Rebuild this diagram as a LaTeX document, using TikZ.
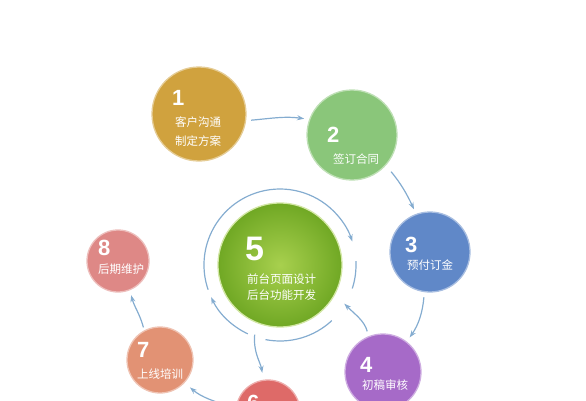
\documentclass[tikz,border=0pt]{standalone}
\usepackage{fontspec}
\usepackage{tikz}
\usetikzlibrary{arrows.meta}
\newfontfamily\cjk{Noto Sans CJK SC}
\newfontfamily\numfont{Liberation Sans}
\definecolor{gold}{RGB}{208,162,62}
\definecolor{leaf}{RGB}{138,198,122}
\definecolor{sky}{RGB}{96,136,200}
\definecolor{violet}{RGB}{166,106,200}
\definecolor{limein}{RGB}{168,208,78}
\definecolor{limeout}{RGB}{112,168,36}
\definecolor{rose}{RGB}{222,106,104}
\definecolor{peach}{RGB}{226,146,116}
\definecolor{blush}{RGB}{222,136,134}
\definecolor{flowblue}{RGB}{132,172,208}

\begin{document}
\begin{tikzpicture}[x=1pt,y=1pt]
            \tikzstyle{stage}=[circle, inner sep=0pt, line width=1.3pt]
            \tikzstyle{num}=[inner sep=0pt, anchor=base west, text=white, font=\numfont\bfseries\fontsize{22}{22}\selectfont]
            \tikzstyle{desc}=[inner sep=0pt, anchor=base west, text=white, align=left, font=\cjk\fontsize{11.5}{18.5}\selectfont]
            \tikzstyle{flow}=[line width=1.2pt, draw=flowblue, -{Stealth[length=7pt,width=5pt]}, shorten <=5pt, shorten >=5pt]
            \tikzstyle{ring}=[line width=1.2pt, draw=flowblue]
            \useasboundingbox (0,0) rectangle (586,400);
            \clip (0,0) rectangle (586,400);
            {\node[stage, minimum size=94pt, fill=gold, draw=gold!55!white] (c1) at (199,286){};
            \node[stage, minimum size=90pt, fill=leaf, draw=leaf!55!white] (c2) at (352,265){};
            \node[stage, minimum size=80pt, fill=sky, draw=sky!55!white] (c3) at (430,148){};
            \node[stage, minimum size=76pt, fill=violet, draw=violet!55!white] (c4) at (383,28){};
            \node[stage, minimum size=124pt, inner color=limein, outer color=limeout, draw=limein!50!white] (c5) at (280,135){};
            \node[stage, minimum size=64pt, fill=rose, draw=rose!55!white] (c6) at (268,-12){};
            \node[stage, minimum size=66pt, fill=peach, draw=peach!55!white] (c7) at (160,40){};
            \node[stage, minimum size=62pt, fill=blush, draw=blush!55!white] (c8) at (118,139){};}
            {\node[num] (n1) at (172,295){1};
            \node[desc] (t1) at (175,255){客户沟通\\制定方案};
            \node[num] (n2) at (327,258){2};
            \node[desc] (t2) at (333,237){签订合同};
            \node[num] (n3) at (405,148){3};
            \node[desc] (t3) at (407,131){预付订金};
            \node[num] (n4) at (360,28){4};
            \node[desc] (t4) at (362,11){初稿审核};
            \node[num, font=\numfont\bfseries\fontsize{34}{34}\selectfont] (n5) at (245,140){5};
            \node[desc, font=\cjk\fontsize{11.5}{16}\selectfont] (t5) at (247,101){前台页面设计\\后台功能开发};
            \node[num] (n6) at (247,-10){6};
            \node[num] (n7) at (137,43){7};
            \node[desc] (t7) at (137,22){上线培训};
            \node[num] (n8) at (98,145){8};
            \node[desc] (t8) at (98,127){后期维护};}
            % ring round stage 5
            \draw[ring, -{Stealth[length=7pt,width=5pt]}] ([shift={(245:76)}]c5.center) arc[start angle=245, end angle=205, radius=76];
            \draw[ring, -{Stealth[length=7pt,width=5pt]}] ([shift={(199:76)}]c5.center) arc[start angle=199, end angle=18, radius=76];
            \draw[ring] ([shift={(3:76)}]c5.center) arc[start angle=3, end angle=-18, radius=76];
            \draw[ring] ([shift={(-101:76)}]c5.center) arc[start angle=-101, end angle=-47, radius=76];
            \coordinate (r4) at ([shift={(-31:75)}]c5.center);
            \coordinate (r6) at ([shift={(-110:74)}]c5.center);
\draw[flow] (c1.-8) to[out=5,in=172] (c2.160);
            \draw[flow, shorten <=8pt] (c2.-42) to[out=-50,in=115] (c3.110);
            \draw[flow] (c3.-98) to[out=-95,in=55] (c4.52);
            \draw[flow, shorten >=0pt] (c4.112) to[out=105,in=-45] (r4);
            \draw[flow, shorten <=0pt, shorten >=7pt] (r6) to[out=-95,in=100] (c6.98);
            \draw[flow, shorten >=7pt] (c6.172) to[out=165,in=-40] (c7.-43);
            \draw[flow, shorten <=3pt] (c7.118) to[out=105,in=-75] (c8.-68);
        \end{tikzpicture}
\end{document}
